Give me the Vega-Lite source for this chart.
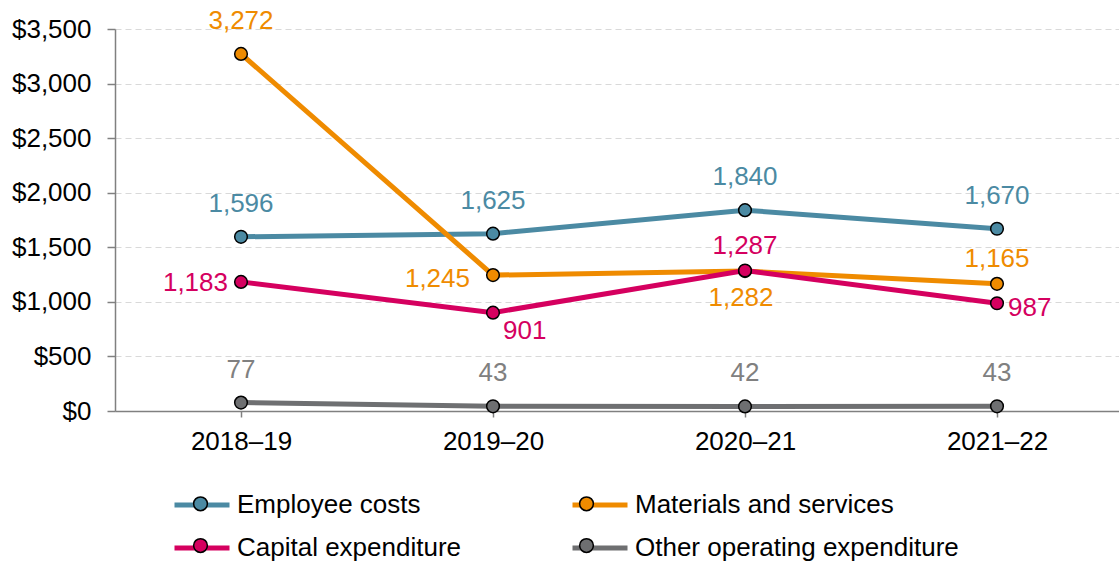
{
  "$schema": "https://vega.github.io/schema/vega-lite/v6.json",
  "width": 1008,
  "height": 382,
  "autosize": {"type": "none"},
  "padding": {"left": 115, "top": 29, "right": 0, "bottom": 151},
  "config": {
    "font": "Liberation Sans",
    "view": {"stroke": null},
    "legend": {
      "labelFontSize": 26,
      "labelColor": "black",
      "labelFont": "Liberation Sans",
      "labelLimit": 0,
      "columns": 2,
      "direction": "horizontal",
      "rowPadding": -4,
      "labelOffset": 5,
      "padding": 0,
      "symbolSize": 3025,
      "orient": "none",
      "legendX": 57,
      "legendY": 446
    }
  },
  "data": {
    "values": [
      {"year": "2018–19", "series": "Employee costs", "value": 1596},
      {"year": "2018–19", "series": "Materials and services", "value": 3272},
      {"year": "2018–19", "series": "Capital expenditure", "value": 1183},
      {"year": "2018–19", "series": "Other operating expenditure", "value": 77},
      {"year": "2019–20", "series": "Employee costs", "value": 1625},
      {"year": "2019–20", "series": "Materials and services", "value": 1245},
      {"year": "2019–20", "series": "Capital expenditure", "value": 901},
      {"year": "2019–20", "series": "Other operating expenditure", "value": 43},
      {"year": "2020–21", "series": "Employee costs", "value": 1840},
      {"year": "2020–21", "series": "Materials and services", "value": 1282},
      {"year": "2020–21", "series": "Capital expenditure", "value": 1287},
      {"year": "2020–21", "series": "Other operating expenditure", "value": 42},
      {"year": "2021–22", "series": "Employee costs", "value": 1670},
      {"year": "2021–22", "series": "Materials and services", "value": 1165},
      {"year": "2021–22", "series": "Capital expenditure", "value": 987},
      {"year": "2021–22", "series": "Other operating expenditure", "value": 43}
    ]
  },
  "encoding": {
    "x": {
      "field": "year",
      "type": "ordinal",
      "sort": null,
      "scale": {"type": "point", "padding": 0.5},
      "axis": {
        "title": null,
        "labelAngle": 0,
        "labelFontSize": 26,
        "labelColor": "black",
        "domainColor": "#808080",
        "domainWidth": 1.5,
        "tickColor": "#808080",
        "tickWidth": 1.5,
        "tickSize": 6,
        "labelPadding": 11,
        "grid": false
      }
    },
    "y": {
      "field": "value",
      "type": "quantitative",
      "scale": {"domain": [0, 3500], "nice": false},
      "axis": {
        "title": null,
        "values": [0, 500, 1000, 1500, 2000, 2500, 3000, 3500],
        "format": "$,.0f",
        "labelFontSize": 26,
        "labelColor": "black",
        "domainColor": "#808080",
        "domainWidth": 1.5,
        "tickColor": "#808080",
        "tickWidth": 1.5,
        "tickSize": 8,
        "labelPadding": 16,
        "gridColor": "#d9d9d9",
        "gridDash": [6, 4],
        "gridWidth": 1.2
      }
    }
  },
  "layer": [
    {
      "mark": {"type": "line", "strokeWidth": 5},
      "encoding": {
        "stroke": {
          "field": "series",
          "type": "nominal",
          "sort": ["Employee costs", "Materials and services", "Capital expenditure", "Other operating expenditure"],
          "scale": {"range": ["#4b8aa3", "#ef8b00", "#d5005f", "#6e6f71"]},
          "legend": {"title": null, "symbolType": "stroke", "symbolStrokeWidth": 5, "columnPadding": 100, "zindex": 1}
        }
      }
    },
    {
      "mark": {"type": "point", "filled": true, "size": 160, "stroke": "black", "strokeWidth": 1.5, "opacity": 1},
      "encoding": {
        "fill": {
          "field": "series",
          "type": "nominal",
          "scale": {
            "domain": ["Employee costs", "Materials and services", "Capital expenditure", "Other operating expenditure"],
            "range": ["#4b8aa3", "#ef8b00", "#d5005f", "#6e6f71"]
          },
          "legend": {
            "title": null,
            "symbolType": "M0.25,0A0.25,0.25,0,1,1,-0.25,0A0.25,0.25,0,1,1,0.25,0Z",
            "symbolStrokeColor": "black",
            "symbolStrokeWidth": 1.5,
            "symbolOpacity": 1,
            "labelExpr": "''",
            "labelOffset": 0,
            "columnPadding": 329,
            "zindex": 2
          }
        }
      }
    },
    {
      "transform": [{"filter": "datum.series != 'Capital expenditure' && !(datum.series == 'Materials and services' && datum.year != '2018–19')"}],
      "mark": {"type": "text", "fontSize": 26, "dy": -33, "baseline": "middle", "align": "center"},
      "encoding": {
        "text": {"field": "value", "type": "quantitative", "format": ",.0f"},
        "color": {"field": "series", "type": "nominal", "legend": null, "scale": {"domain": ["Employee costs", "Materials and services", "Capital expenditure", "Other operating expenditure"], "range": ["#4b8aa3", "#ef8b00", "#d5005f", "#808080"]}}
      }
    },
    {
      "transform": [{"filter": "(datum.series == 'Capital expenditure' && datum.year == '2020–21') || (datum.series == 'Materials and services' && datum.year == '2021–22')"}],
      "mark": {"type": "text", "fontSize": 26, "dy": -25, "baseline": "middle", "align": "center"},
      "encoding": {
        "text": {"field": "value", "type": "quantitative", "format": ",.0f"},
        "color": {"field": "series", "type": "nominal", "legend": null, "scale": {"domain": ["Employee costs", "Materials and services", "Capital expenditure", "Other operating expenditure"], "range": ["#4b8aa3", "#ef8b00", "#d5005f", "#808080"]}}
      }
    },
    {
      "transform": [{"filter": "datum.series == 'Capital expenditure' && datum.year == '2018–19'"}],
      "mark": {"type": "text", "fontSize": 26, "dx": -13, "dy": 1, "baseline": "middle", "align": "right"},
      "encoding": {
        "text": {"field": "value", "type": "quantitative", "format": ",.0f"},
        "color": {"field": "series", "type": "nominal", "legend": null, "scale": {"domain": ["Employee costs", "Materials and services", "Capital expenditure", "Other operating expenditure"], "range": ["#4b8aa3", "#ef8b00", "#d5005f", "#808080"]}}
      }
    },
    {
      "transform": [{"filter": "datum.series == 'Materials and services' && datum.year == '2019–20'"}],
      "mark": {"type": "text", "fontSize": 26, "dx": -23, "dy": 4, "baseline": "middle", "align": "right"},
      "encoding": {
        "text": {"field": "value", "type": "quantitative", "format": ",.0f"},
        "color": {"field": "series", "type": "nominal", "legend": null, "scale": {"domain": ["Employee costs", "Materials and services", "Capital expenditure", "Other operating expenditure"], "range": ["#4b8aa3", "#ef8b00", "#d5005f", "#808080"]}}
      }
    },
    {
      "transform": [{"filter": "datum.series == 'Materials and services' && datum.year == '2020–21'"}],
      "mark": {"type": "text", "fontSize": 26, "dx": -4, "dy": 27, "baseline": "middle", "align": "center"},
      "encoding": {
        "text": {"field": "value", "type": "quantitative", "format": ",.0f"},
        "color": {"field": "series", "type": "nominal", "legend": null, "scale": {"domain": ["Employee costs", "Materials and services", "Capital expenditure", "Other operating expenditure"], "range": ["#4b8aa3", "#ef8b00", "#d5005f", "#808080"]}}
      }
    },
    {
      "transform": [{"filter": "datum.series == 'Capital expenditure' && datum.year == '2019–20'"}],
      "mark": {"type": "text", "fontSize": 26, "dx": 10, "dy": 18, "baseline": "middle", "align": "left"},
      "encoding": {
        "text": {"field": "value", "type": "quantitative", "format": ",.0f"},
        "color": {"field": "series", "type": "nominal", "legend": null, "scale": {"domain": ["Employee costs", "Materials and services", "Capital expenditure", "Other operating expenditure"], "range": ["#4b8aa3", "#ef8b00", "#d5005f", "#808080"]}}
      }
    },
    {
      "transform": [{"filter": "datum.series == 'Capital expenditure' && datum.year == '2021–22'"}],
      "mark": {"type": "text", "fontSize": 26, "dx": 11, "dy": 5, "baseline": "middle", "align": "left"},
      "encoding": {
        "text": {"field": "value", "type": "quantitative", "format": ",.0f"},
        "color": {"field": "series", "type": "nominal", "legend": null, "scale": {"domain": ["Employee costs", "Materials and services", "Capital expenditure", "Other operating expenditure"], "range": ["#4b8aa3", "#ef8b00", "#d5005f", "#808080"]}}
      }
    }
  ]
}
